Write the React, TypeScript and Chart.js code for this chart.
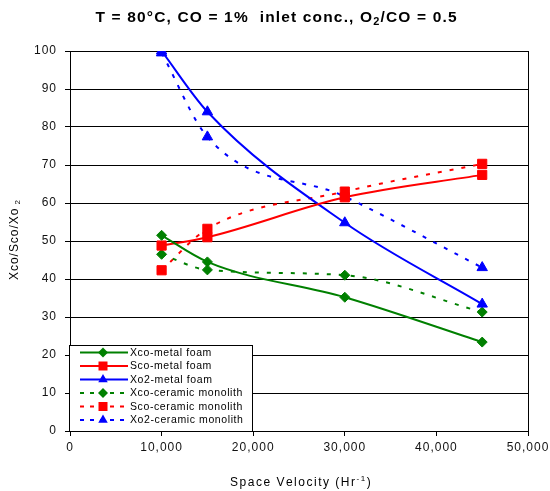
import React, { useEffect, useRef } from 'react';
import { Chart, registerables } from 'chart.js';

Chart.register(...registerables);

// ---- data ----
const spaceVelocity = [10000, 15000, 30000, 45000];
const xcoMetalFoam = [51.5, 44.5, 35.2, 23.4];
const scoMetalFoam = [48.8, 51, 61.5, 67.4];
const xo2MetalFoam = [100, 84, 54.8, 33.4];
const xcoCeramicMonolith = [46.5, 42.4, 41, 31.3];
const scoCeramicMonolith = [42.3, 53.2, 63, 70.3];
const xo2CeramicMonolith = [99.5, 77.4, 61.7, 43];

const seriesNames = [
  'Xco-metal foam',
  'Sco-metal foam',
  'Xo2-metal foam',
  'Xco-ceramic monolith',
  'Sco-ceramic monolith',
  'Xo2-ceramic monolith',
];
const xTickLabels = ['0', '10,000', '20,000', '30,000', '40,000', '50,000'];
const yTickLabels = ['0', '10', '20', '30', '40', '50', '60', '70', '80', '90', '100'];

const GREEN = '#008000';
const RED = '#FF0000';
const BLUE = '#0000FF';
const FONT = '"Liberation Sans", Arial, sans-serif';

type Piece = { t: string; size: number; bold?: boolean; dy?: number };

function drawRich(ctx: CanvasRenderingContext2D, pieces: Piece[], cx: number, baseY: number, target: number) {
  let raw = 0;
  let n = 0;
  ctx.letterSpacing = '0px';
  for (const p of pieces) {
    ctx.font = `${p.bold ? 'bold ' : ''}${p.size}px ${FONT}`;
    raw += ctx.measureText(p.t).width;
    n += p.t.length;
  }
  const sp = Math.max(0, (target - raw) / Math.max(1, n - 1));
  let x = cx - target / 2;
  ctx.textAlign = 'left';
  ctx.textBaseline = 'alphabetic';
  for (const p of pieces) {
    ctx.font = `${p.bold ? 'bold ' : ''}${p.size}px ${FONT}`;
    for (const ch of p.t) {
      ctx.fillText(ch, x, baseY + (p.dy || 0));
      x += ctx.measureText(ch).width + sp;
    }
  }
}

function drawMarker(ctx: CanvasRenderingContext2D, style: string, x: number, y: number, color: string) {
  ctx.fillStyle = color;
  ctx.beginPath();
  if (style === 'rectRot') {
    const r = 5;
    ctx.moveTo(x, y - r);
    ctx.lineTo(x + r, y);
    ctx.lineTo(x, y + r);
    ctx.lineTo(x - r, y);
  } else if (style === 'rect') {
    const s = 4.5;
    ctx.rect(x - s, y - s, 2 * s, 2 * s);
  } else {
    const r = 5.5;
    ctx.moveTo(x, y - r);
    ctx.lineTo(x + r * 0.866, y + r * 0.5);
    ctx.lineTo(x - r * 0.866, y + r * 0.5);
  }
  ctx.closePath();
  ctx.fill();
}

const legendColors = [GREEN, RED, BLUE, GREEN, RED, BLUE];
const legendStyles = ['rectRot', 'rect', 'triangle', 'rectRot', 'rect', 'triangle'];

const overlay = {
  id: 'overlay',
  beforeDraw(chart: any) {
    chart.ctx.letterSpacing = '1px';
  },
  afterDraw(chart: any) {
    const ctx: CanvasRenderingContext2D = chart.ctx;
    const { top, bottom, right } = chart.chartArea;
    ctx.save();
    // right border of plot
    ctx.strokeStyle = '#000';
    ctx.lineWidth = 1;
    ctx.setLineDash([]);
    ctx.beginPath();
    const rx = Math.round(right) + 0.5;
    ctx.moveTo(rx, top);
    ctx.lineTo(rx, bottom);
    ctx.stroke();

    // title
    ctx.fillStyle = '#000';
    drawRich(
      ctx,
      [
        { t: 'T = 80°C, CO = 1%  inlet conc., O', size: 15.5, bold: true },
        { t: '2', size: 11, bold: true, dy: 3 },
        { t: '/CO = 0.5', size: 15.5, bold: true },
      ],
      276,
      22,
      361
    );

    // x axis title
    drawRich(
      ctx,
      [
        { t: 'Space Velocity (Hr', size: 12 },
        { t: '-1', size: 8, dy: -5 },
        { t: ')', size: 12 },
      ],
      300,
      486,
      140
    );

    // y axis title
    ctx.save();
    ctx.translate(18, 240);
    ctx.rotate(-Math.PI / 2);
    drawRich(
      ctx,
      [
        { t: 'Xco/Sco/Xo', size: 12 },
        { t: ' 2', size: 8, dy: 2 },
      ],
      0,
      0,
      80
    );
    ctx.restore();

    // legend
    const bx = 69.5, by = 345.5, bw = 183, bh = 86;
    ctx.fillStyle = '#fff';
    ctx.fillRect(bx, by, bw, bh);
    ctx.strokeStyle = '#000';
    ctx.lineWidth = 1;
    ctx.strokeRect(bx, by, bw, bh);
    for (let i = 0; i < seriesNames.length; i++) {
      const y = 352.5 + i * 13.5;
      const c = legendColors[i];
      ctx.strokeStyle = c;
      ctx.lineWidth = 2;
      ctx.setLineDash(i >= 3 ? [4, 6] : []);
      ctx.beginPath();
      ctx.moveTo(80, y);
      ctx.lineTo(128, y);
      ctx.stroke();
      ctx.setLineDash([]);
      drawMarker(ctx, legendStyles[i], 103, y, c);
      ctx.fillStyle = '#000';
      ctx.font = `10.5px ${FONT}`;
      ctx.letterSpacing = '0.6px';
      ctx.textAlign = 'left';
      ctx.textBaseline = 'middle';
      ctx.fillText(seriesNames[i], 130, y + 0.5);
    }
    ctx.restore();
    ctx.letterSpacing = '0px';
  },
};

function pts(vals: number[]) {
  return spaceVelocity.map((x, i) => ({ x, y: vals[i] }));
}

export default function App() {
  const ref = useRef<HTMLCanvasElement>(null);
  useEffect(() => {
    if (!ref.current) return;
    const mk = (i: number, vals: number[], color: string, style: string, radius: number, dashed: boolean) => ({
      label: seriesNames[i],
      data: pts(vals),
      borderColor: color,
      backgroundColor: color,
      borderWidth: 2,
      borderDash: dashed ? [4, 8] : [],
      pointStyle: style,
      pointRadius: radius,
      pointBorderWidth: 1,
      pointBackgroundColor: color,
      pointBorderColor: color,
      cubicInterpolationMode: 'monotone',
      fill: false,
    });
    const chart = new Chart(ref.current, {
      type: 'line',
      data: {
        datasets: [
          mk(0, xcoMetalFoam, GREEN, 'rectRot', 5, false),
          mk(1, scoMetalFoam, RED, 'rect', 6.5, false),
          mk(2, xo2MetalFoam, BLUE, 'triangle', 6, false),
          mk(3, xcoCeramicMonolith, GREEN, 'rectRot', 5, true),
          mk(4, scoCeramicMonolith, RED, 'rect', 6.5, true),
          mk(5, xo2CeramicMonolith, BLUE, 'triangle', 6, true),
        ] as any,
      },
      options: {
        responsive: false,
        animation: false,
        events: [],
        layout: { padding: { left: 0, right: 22, top: 51, bottom: 0 } },
        plugins: { legend: { display: false }, title: { display: false }, tooltip: { enabled: false } },
        scales: {
          x: {
            type: 'linear',
            min: 0,
            max: 50000,
            ticks: {
              stepSize: 10000,
              color: '#111',
              font: { family: FONT, size: 12 },
              padding: 4,
              maxRotation: 0,
              callback: (_v: any, i: number) => xTickLabels[i],
            },
            grid: { drawOnChartArea: false, drawTicks: true, tickLength: 5, color: '#000', lineWidth: 1 },
            border: { color: '#000', width: 1 },
            afterFit: (s: any) => {
              s.height = 60;
              s.paddingLeft = 0;
              s.paddingRight = 0;
            },
          },
          y: {
            min: 0,
            max: 100,
            ticks: {
              stepSize: 10,
              color: '#111',
              font: { family: FONT, size: 12 },
              padding: 8,
              callback: (_v: any, i: number) => yTickLabels[i],
            },
            grid: { color: '#000', lineWidth: 1, tickLength: 5 },
            border: { color: '#000', width: 1 },
            afterFit: (s: any) => {
              s.width = 70;
              s.paddingTop = 0;
              s.paddingBottom = 0;
            },
          },
        },
      } as any,
      plugins: [overlay],
    });
    return () => chart.destroy();
  }, []);
  return (
    <div style={{ position: 'absolute', left: 0, top: 0, width: 550, height: 491, background: '#fff' }}>
      <canvas ref={ref} width={550} height={491} style={{ display: 'block', width: 550, height: 491 }} />
    </div>
  );
}
